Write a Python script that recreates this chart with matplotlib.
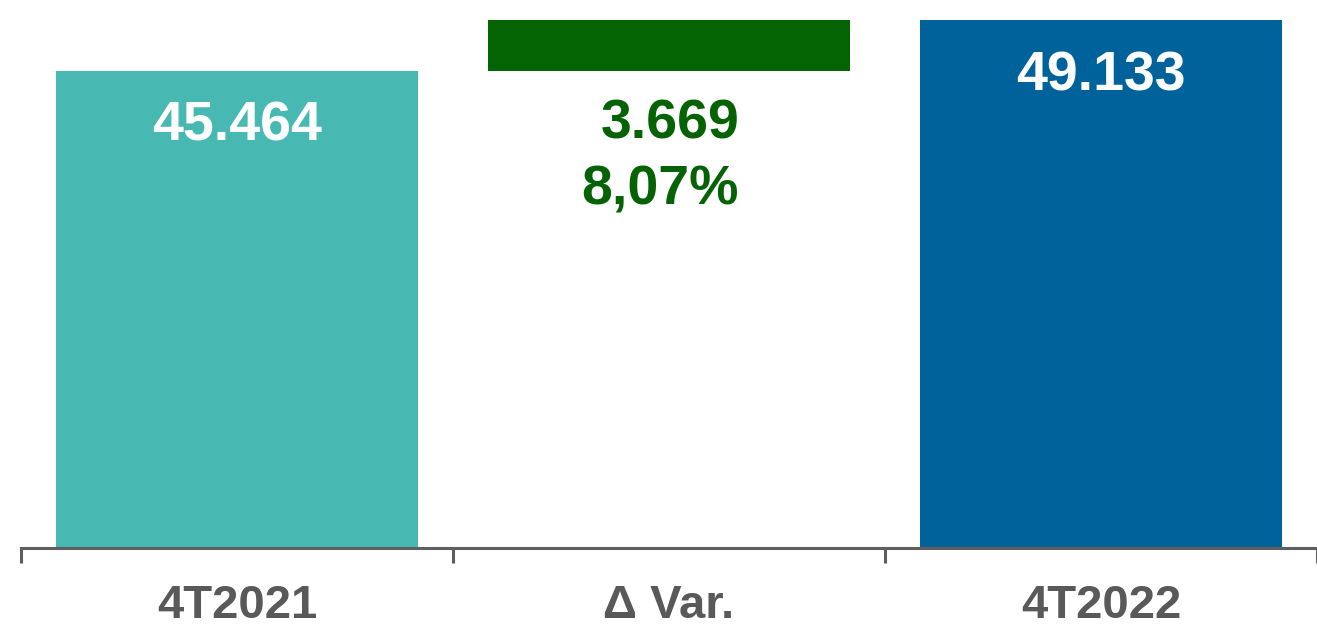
import matplotlib.pyplot as plt

plt.rcParams['font.family'] = ['Liberation Sans', 'DejaVu Sans']

categories = ["4T2021", "Δ Var.", "4T2022"]
value_2021 = 45.464
value_2022 = 49.133
delta = 3.669
delta_pct = "8,07%"

bar_colors = ["#48B9B2", "#046404", "#00629B"]
green_text = "#056305"
axis_gray = "#5f5f5f"

fig = plt.figure(figsize=(13.17, 6.28), dpi=100)
ax = fig.add_axes([21 / 1317, 80 / 628, 1296 / 1317, 548 / 628])

x = range(len(categories))
width = 0.837
ax.bar(0, value_2021, width=width, color=bar_colors[0])
ax.bar(1, delta, bottom=value_2021, width=width, color=bar_colors[1])
ax.bar(2, value_2022, width=width, color=bar_colors[2])

ax.set_xlim(-0.5, 2.47)
ax.set_ylim(11.15, 50.57)

# value labels inside bars
lab = dict(textcoords='offset pixels', va='center', fontsize=40, fontweight='bold')
ax.annotate("45.464", (0, value_2021), xytext=(0, -56), ha='center', color='white', **lab)
ax.annotate("49.133", (2, value_2022), xytext=(0, -57), ha='center', color='white', **lab)
ax.annotate("3.669", (1, value_2021), xytext=(70, -54), ha='right', color=green_text, **lab)
ax.annotate(delta_pct, (1, value_2021), xytext=(70, -120), ha='right', color=green_text, **lab)

# axes styling
for side in ['top', 'right', 'left']:
    ax.spines[side].set_visible(False)
ax.spines['bottom'].set_color(axis_gray)
ax.spines['bottom'].set_linewidth(2.2)
ax.set_yticks([])
ax.set_xticks(list(x))
ax.set_xticklabels(categories, fontsize=34, fontweight='bold', color="#595959")
ax.tick_params(axis='x', which='major', length=0, pad=26)
ax.set_xticks([-0.5, 0.5, 1.5, 2.5], minor=True)
ax.tick_params(axis='x', which='minor', length=11, width=2.2, color=axis_gray)

fig.savefig("out.png", dpi=100)
